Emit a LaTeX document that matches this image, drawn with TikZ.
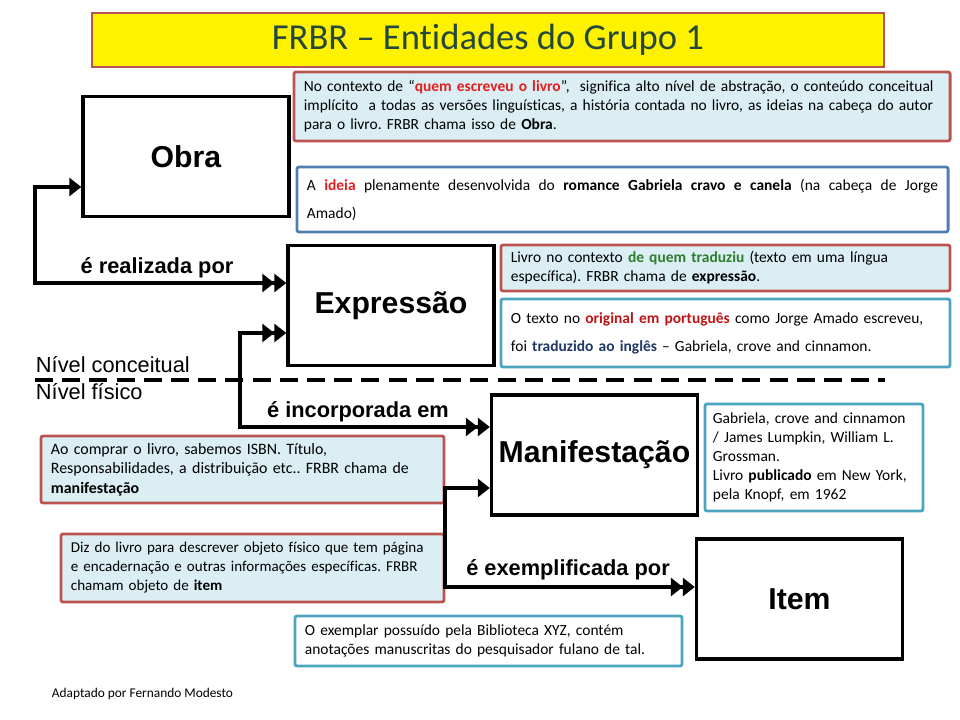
\documentclass[tikz,border=0pt]{standalone}
\usepackage{fontspec}
\setmainfont{Carlito}[Ligatures=NoCommon]
\newfontfamily\arialfont{Liberation Sans}
\usetikzlibrary{arrows.meta}
\frenchspacing

\definecolor{notered}{RGB}{185,84,80}
\definecolor{notefill}{RGB}{219,238,244}
\definecolor{noteblue}{RGB}{79,125,180}
\definecolor{noteteal}{RGB}{75,165,190}
\definecolor{titletext}{RGB}{37,72,58}
\definecolor{txtred}{RGB}{228,30,30}
\definecolor{txtgreen}{RGB}{45,125,45}
\definecolor{txtdarkred}{RGB}{192,20,20}
\definecolor{txtnavy}{RGB}{31,56,100}

\begin{document}
\begin{tikzpicture}[x=0.025cm, y=-0.025cm,
    entidade/.style={draw, line width=2.4pt, minimum width=5.15cm, minimum height=3cm,
        font=\arialfont\bfseries\fontsize{21.5}{25}\selectfont},
    nota/.style={draw, line width=2pt, rounded corners=1.5pt, align=left,
        inner xsep=0.25cm, inner ysep=2pt, font=\fontsize{11}{13.5}\selectfont},
    notaVermelha/.style={nota, draw=notered, fill=notefill},
    notaAzul/.style={nota, draw=noteblue, fill=white},
    notaTurquesa/.style={nota, draw=noteteal, fill=white},
    ligacao/.style={line width=2.8pt},
    rotulo/.style={font=\arialfont\bfseries\fontsize{15.5}{18}\selectfont},
    nivel/.style={anchor=west, font=\arialfont\fontsize{15.5}{18}\selectfont},
    seta/.tip={Triangle[length=3mm, width=4.5mm]},
    dupla/.tip={Triangle[length=3mm, width=4.5mm] Triangle[length=3mm, width=4.5mm]}]

    % Page
    \fill[white] (0,0) rectangle (960,720);

    % Title
    \node[draw=notered, line width=1.5pt, fill=yellow, text=titletext,
        minimum width=19.8cm, minimum height=1.35cm,
        font=\fontsize{26}{30}\selectfont] (titulo) at (488,40) {FRBR – Entidades do Grupo 1};

    % The four entities
    \node[entidade] (obra) at (186,156.5) {Obra};
    \node[entidade] (expr) at (391,305.5) {Expressão};
    \node[entidade] (manif) at (594.5,455) {Manifestação};
    \node[entidade] (item) at (799.5,599) {Item};

    % Notes on Obra
    \node[notaVermelha, text width=15.9cm, minimum height=1.725cm] (notaObra) at (622,106.5)
        {No contexto de “\textbf{\color{txtred}quem escreveu o livro}”,\ \ significa alto nível de abstração, o conteúdo conceitual\\
         implícito\ \ a todas as versões linguísticas, a história contada no livro, as ideias na cabeça do autor\\
         para o livro. FRBR chama isso de \textbf{Obra}.};
    \node[notaAzul, text width=15.775cm, minimum height=1.625cm, align=justify,
        font=\fontsize{11}{20}\selectfont] (exObra) at (622.5,199.5)
        {A \textbf{\color{txtred}ideia} plenamente desenvolvida do \textbf{romance Gabriela cravo e canela} (na cabeça de Jorge\linebreak Amado)};

    % Notes on Expressão
    \node[notaVermelha, text width=10.725cm, minimum height=1.15cm] (notaExpr) at (725.5,268)
        {Livro no contexto \textbf{\color{txtgreen}de quem traduziu} (texto em uma língua\\
         específica). FRBR chama de \textbf{expressão}.};
    \node[notaTurquesa, text width=10.725cm, minimum height=1.7cm,
        font=\fontsize{11}{20}\selectfont] (exExpr) at (725.5,333)
        {O texto no \textbf{\color{txtdarkred}original em português} como Jorge Amado escreveu,\\
         foi \textbf{\color{txtnavy}traduzido ao inglês} – Gabriela, crove and cinnamon.};

    % Notes on Manifestação
    \node[notaTurquesa, text width=5.05cm, inner xsep=0.2cm, minimum height=2.675cm] (exManif) at (814,457.5)
        {Gabriela, crove and cinnamon\\
         / James Lumpkin, William L.\\
         Grossman.\\
         Livro \textbf{publicado} em New York,\\
         pela Knopf, em 1962};
    \node[notaVermelha, text width=9.575cm, minimum height=1.675cm,
        font=\fontsize{11.3}{13.8}\selectfont] (notaManif) at (242.5,469.5)
        {Ao comprar o livro, sabemos ISBN. Título,\\
         Responsabilidades, a distribuição etc.. FRBR chama de\\
         \textbf{manifestação}};

    % Notes on Item
    \node[notaVermelha, text width=9.075cm, minimum height=1.7cm,
        font=\fontsize{10.7}{13.5}\selectfont] (notaItem) at (252.5,568)
        {Diz do livro para descrever objeto físico que tem página\\
         e encadernação e outras informações específicas. FRBR\\
         chamam objeto de \textbf{item}};
    \node[notaTurquesa, text width=9.175cm, minimum height=1.25cm] (exItem) at (488.5,641)
        {O exemplar possuído pela Biblioteca XYZ, contém\\
         anotações manuscritas do pesquisador fulano de tal.};

    % Relations
    \coordinate (realA) at (35,187);
    \coordinate (realB) at (35,283);
    \draw[ligacao, seta-dupla] (realA -| obra.west) -- (realA) -- (realB) -- (realB -| expr.west);
    \node[rotulo] (realizada) at (157,268) {é realizada por};

    \coordinate (incA) at (240,333);
    \coordinate (incB) at (240,427);
    \draw[ligacao, dupla-dupla] (incA -| expr.west) -- (incA) -- (incB) -- (incB -| manif.west);
    \node[rotulo] (incorporada) at (358,412) {é incorporada em};

    \coordinate (exA) at (445,488);
    \coordinate (exB) at (445,587);
    \draw[ligacao, seta-dupla] (exA -| manif.west) -- (exA) -- (exB) -- (exB -| item.west);
    \node[rotulo] (exemplificada) at (568,570) {é exemplificada por};

    % Conceptual / physical level
    \coordinate (nivelA) at (35,380);
    \coordinate (nivelB) at (885,380);
    \draw[line width=2.2pt, dash pattern=on 0.45cm off 0.23cm] (nivelA) -- (nivelB);
    \node[nivel] (conceitual) at (31,365) {Nível conceitual};
    \node[nivel] (fisico) at (31,392) {Nível físico};

    % Credit
    \node[anchor=west, font=\fontsize{9.5}{11}\selectfont] (autor) at (47,694) {Adaptado por Fernando Modesto};
\end{tikzpicture}
\end{document}
